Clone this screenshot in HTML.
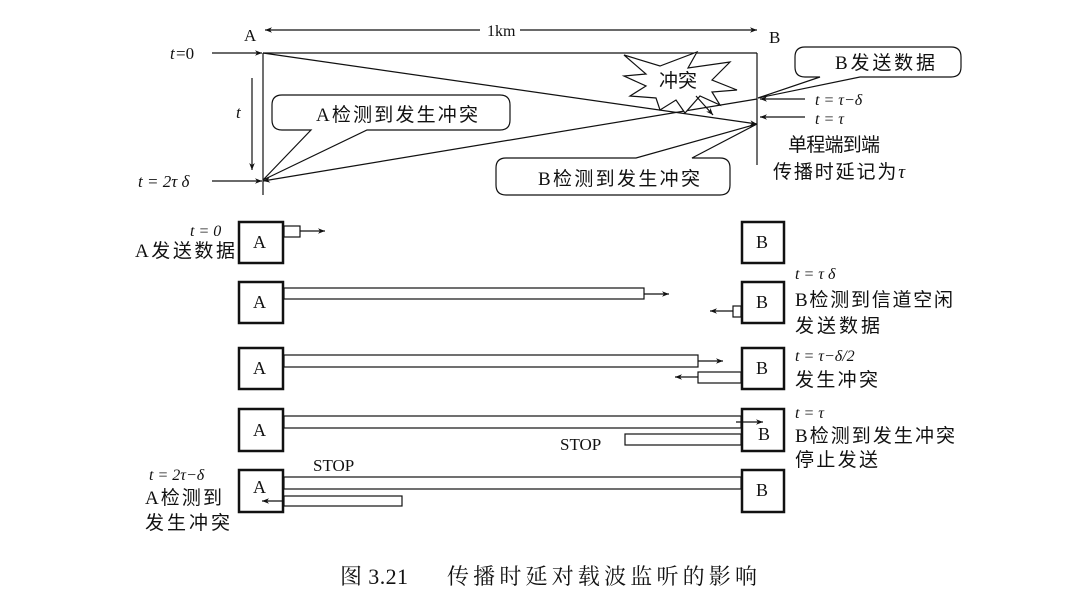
<!DOCTYPE html>
<html><head><meta charset="utf-8"><style>
html,body{margin:0;padding:0;background:#fff;}
svg{display:block;}
text{font-family:"Liberation Serif","Noto Serif CJK SC","Noto Sans CJK SC",serif;fill:#111;}
.cj{font-family:"Liberation Serif","Noto Sans CJK SC",sans-serif;font-size:19px;}
.it{font-style:italic;}
</style></head><body>
<svg width="1071" height="603" viewBox="0 0 1071 603" xmlns="http://www.w3.org/2000/svg">
<defs>
<marker id="ar" viewBox="0 0 10 10" refX="10" refY="5" markerWidth="9" markerHeight="7" orient="auto-start-reverse" markerUnits="userSpaceOnUse"><path d="M0,1 L10,5 L0,9 L3,5 z" fill="#111"/></marker>
</defs>
<g stroke="#111" stroke-width="1.2" fill="none">
<line x1="265" y1="30" x2="480" y2="30" marker-start="url(#ar)"/>
<line x1="520" y1="30" x2="757" y2="30" marker-end="url(#ar)"/>
<line x1="263" y1="53" x2="263" y2="195"/>
<line x1="263" y1="53" x2="757" y2="53"/>
<line x1="757" y1="53" x2="757" y2="165"/>
<line x1="263" y1="53" x2="757" y2="124" marker-end="url(#ar)"/>
<line x1="757" y1="99" x2="263" y2="181" marker-end="url(#ar)"/>
<line x1="212" y1="53" x2="262" y2="53" marker-end="url(#ar)"/>
<line x1="212" y1="181" x2="262" y2="181" marker-end="url(#ar)"/>
<line x1="252" y1="78" x2="252" y2="170" marker-end="url(#ar)"/>
<line x1="805" y1="99" x2="760" y2="99" marker-end="url(#ar)"/>
<line x1="805" y1="117" x2="760" y2="117" marker-end="url(#ar)"/>
<polygon points="697,52 688,68 730,62 712,80 737,90 712,92 720,105 700,96 685,113 676,100 660,110 656,98 630,96 646,86 624,76 646,74 624,55 660,66" fill="#fff"/>
<line x1="696" y1="96" x2="713" y2="115" marker-end="url(#ar)"/>
<path d="M282,95 H500 Q510,95 510,105 V120 Q510,130 500,130 H367 L263,180 L311,130 H282 Q272,130 272,120 V105 Q272,95 282,95 Z" fill="#fff"/>
<path d="M805,47 H951 Q961,47 961,57 V67 Q961,77 951,77 H860 L758,98 L820,77 H805 Q795,77 795,67 V57 Q795,47 805,47 Z" fill="#fff"/>
<path d="M506,158 H636 L757,124 L692,158 H720 Q730,158 730,168 V185 Q730,195 720,195 H506 Q496,195 496,185 V168 Q496,158 506,158 Z" fill="#fff"/>
</g>
<g font-size="17">
<text x="244" y="41">A</text>
<text x="769" y="43">B</text>
<text x="487" y="36" font-size="16">1km</text>
<text x="170" y="59" class="it">t</text><text x="176" y="59">=0</text>
<text x="236" y="118" class="it">t</text>
<text x="138" y="187" class="it">t = 2τ  δ</text>
<text x="815" y="105" class="it" font-size="16">t = τ−δ</text>
<text x="815" y="124" class="it" font-size="16">t = τ</text>
<text x="316" y="121" class="cj" textLength="162">A检测到发生冲突</text>
<text x="835" y="69" class="cj" textLength="100">B发送数据</text>
<text x="538" y="185" class="cj" textLength="162">B检测到发生冲突</text>
<text x="659" y="87" class="cj">冲突</text>
<text x="788" y="151" class="cj" textLength="92">单程端到端</text>
<text x="773" y="178" class="cj" textLength="132">传播时延记为<tspan class="it">τ</tspan></text>
</g>
<g stroke="#111" fill="#fff">
<rect x="239" y="222" width="44" height="41" stroke-width="2.5"/>
<rect x="742" y="222" width="42" height="41" stroke-width="2.5"/>
<rect x="239" y="282" width="44" height="41" stroke-width="2.5"/>
<rect x="742" y="282" width="42" height="41" stroke-width="2.5"/>
<rect x="239" y="348" width="44" height="41" stroke-width="2.5"/>
<rect x="742" y="348" width="42" height="41" stroke-width="2.5"/>
<rect x="239" y="409" width="44" height="42" stroke-width="2.5"/>
<rect x="742" y="409" width="42" height="42" stroke-width="2.5"/>
<rect x="239" y="470" width="44" height="42" stroke-width="2.5"/>
<rect x="742" y="470" width="42" height="42" stroke-width="2.5"/>
<g stroke-width="1.2">
<rect x="284" y="226" width="16" height="11"/>
<rect x="284" y="288" width="360" height="11"/>
<rect x="733" y="306" width="8" height="11"/>
<rect x="284" y="355" width="414" height="12"/>
<rect x="698" y="372" width="43" height="11"/>
<rect x="284" y="416" width="457" height="12"/>
<rect x="625" y="434" width="116" height="11"/>
<rect x="284" y="477" width="457" height="12"/>
<rect x="284" y="496" width="118" height="10"/>
</g>
</g>
<g stroke="#111" stroke-width="1.2" fill="none">
<line x1="300" y1="231" x2="325" y2="231" marker-end="url(#ar)"/>
<line x1="644" y1="294" x2="669" y2="294" marker-end="url(#ar)"/>
<line x1="733" y1="311" x2="710" y2="311" marker-end="url(#ar)"/>
<line x1="698" y1="361" x2="723" y2="361" marker-end="url(#ar)"/>
<line x1="698" y1="377" x2="675" y2="377" marker-end="url(#ar)"/>
<line x1="736" y1="422" x2="763" y2="422" marker-end="url(#ar)"/>
<line x1="284" y1="501" x2="262" y2="501" marker-end="url(#ar)"/>
</g>
<g font-size="18">
<text x="253" y="248">A</text><text x="756" y="248">B</text>
<text x="253" y="308">A</text><text x="756" y="308">B</text>
<text x="253" y="374">A</text><text x="756" y="374">B</text>
<text x="253" y="436">A</text><text x="758" y="440">B</text>
<text x="253" y="493">A</text><text x="756" y="496">B</text>
<text x="190" y="236" class="it" font-size="16">t = 0</text>
<text x="135" y="257" class="cj" textLength="100">A发送数据</text>
<text x="795" y="279" class="it" font-size="16">t = τ  δ</text>
<text x="795" y="306" class="cj" textLength="158">B检测到信道空闲</text>
<text x="795" y="332" class="cj" textLength="85">发送数据</text>
<text x="795" y="361" class="it" font-size="16">t = τ−δ/2</text>
<text x="795" y="386" class="cj" textLength="83">发生冲突</text>
<text x="795" y="418" class="it" font-size="16">t = τ</text>
<text x="795" y="442" class="cj" textLength="160">B检测到发生冲突</text>
<text x="795" y="466" class="cj" textLength="83">停止发送</text>
<text x="560" y="450" font-size="17">STOP</text>
<text x="313" y="471" font-size="17">STOP</text>
<text x="149" y="480" class="it" font-size="16">t = 2τ−δ</text>
<text x="145" y="504" class="cj" textLength="77">A检测到</text>
<text x="145" y="529" class="cj" textLength="85">发生冲突</text>
</g>
<g font-size="22" fill="#333" style="font-family:'Liberation Serif','Noto Serif CJK SC',serif">
<text x="340" y="584" fill="#333" textLength="68">图 3.21</text>
<text x="447" y="584" fill="#333" textLength="310">传播时延对载波监听的影响</text>
</g>
</svg>
</body></html>
